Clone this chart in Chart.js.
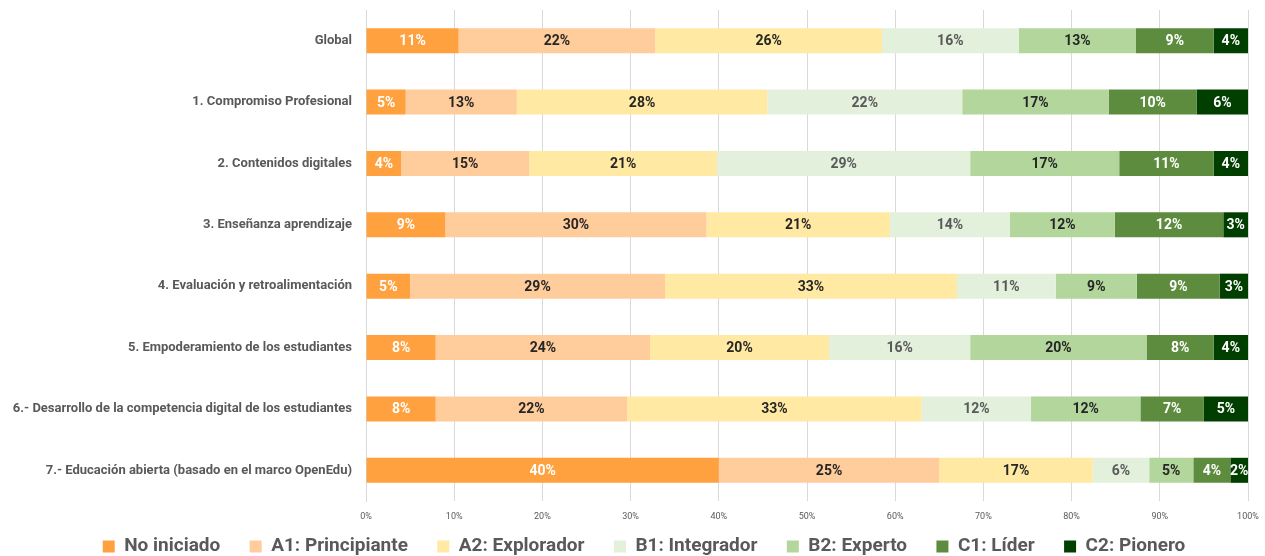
<!DOCTYPE html>
<html>
<head>
<meta charset="utf-8">
<script src="https://cdn.jsdelivr.net/npm/chart.js@4.4.1/dist/chart.umd.min.js"></script>
<style>
  html, body { margin: 0; padding: 0; background: #fff; }
  #wrap { width: 1265px; height: 556px; }
</style>
</head>
<body>
<div id="wrap"><canvas id="bars"></canvas></div>
<script>
// Categorías (de arriba a abajo)
const categories = [
  'Global',
  '1. Compromiso Profesional',
  '2. Contenidos digitales',
  '3. Enseñanza aprendizaje',
  '4. Evaluación y retroalimentación',
  '5. Empoderamiento de los estudiantes',
  '6.- Desarrollo de la competencia digital de los estudiantes',
  '7.- Educación abierta (basado en el marco OpenEdu)'
];

const levels = ['No iniciado', 'A1: Principiante', 'A2: Explorador', 'B1: Integrador', 'B2: Experto', 'C1: Líder', 'C2: Pionero'];

// Porcentajes por nivel
const noIniciado   = [10.5, 4.5, 4.0, 9.0, 5.0, 7.9, 7.9, 40.0];
const principiante = [22.3, 12.6, 14.5, 29.6, 28.9, 24.3, 21.7, 25.0];
const explorador   = [25.7, 28.4, 21.3, 20.8, 33.1, 20.3, 33.4, 17.4];
const integrador   = [15.5, 22.1, 28.7, 13.6, 11.2, 16.0, 12.4, 6.4];
const experto      = [13.3, 16.6, 16.9, 11.9, 9.2, 20.0, 12.4, 5.0];
const lider        = [8.8, 10.0, 10.7, 12.3, 9.4, 7.6, 7.2, 4.2];
const pionero      = [3.9, 5.8, 3.9, 2.8, 3.2, 3.9, 5.0, 2.0];

const xTicks = [0, 10, 20, 30, 40, 50, 60, 70, 80, 90, 100];

const series = [noIniciado, principiante, explorador, integrador, experto, lider, pionero];
const colors = ['#ffa13f', '#ffcc9c', '#ffe9a3', '#e3f0dc', '#b2d69b', '#5e8c3e', '#003f00'];
const labelColors = ['#ffffff', '#262626', '#262626', '#595959', '#262626', '#ffffff', '#ffffff'];

const labelFont = '"Roboto", "Liberation Sans", sans-serif';

// Etiquetas de porcentaje dentro de cada segmento
const segmentLabels = {
  id: 'segmentLabels',
  afterDatasetsDraw(chart) {
    const ctx = chart.ctx;
    ctx.save();
    ctx.font = 'bold 14px ' + labelFont;
    ctx.textAlign = 'center';
    ctx.textBaseline = 'middle';
    chart.data.datasets.forEach((ds, i) => {
      const meta = chart.getDatasetMeta(i);
      meta.data.forEach((bar, j) => {
        const cx = (bar.x + bar.base) / 2;
        ctx.fillStyle = labelColors[i];
        ctx.fillText(Math.round(ds.data[j]) + '%', cx, bar.y + 1);
      });
    });
    ctx.restore();
  }
};

// La leyenda del original está algo desplazada a la derecha
const legendShift = {
  id: 'legendShift',
  afterLayout(chart) {
    chart.legend.left += 20;
    chart.legend.right += 20;
  }
};

new Chart(document.getElementById('bars'), {
  type: 'bar',
  data: {
    labels: categories,
    datasets: levels.map((name, i) => ({
      label: name,
      data: series[i],
      backgroundColor: colors[i],
      borderWidth: 0,
      barPercentage: 0.8,
      categoryPercentage: 0.51
    }))
  },
  options: {
    indexAxis: 'y',
    responsive: true,
    maintainAspectRatio: false,
    animation: false,
    layout: { padding: { top: 10, right: 17, bottom: -10, left: 0 } },
    scales: {
      x: {
        stacked: true,
        min: 0,
        max: 100,
        afterBuildTicks: (scale) => { scale.ticks = xTicks.map(v => ({ value: v })); },
        afterFit: (scale) => {
          scale.height = 26;
          scale.paddingLeft = 0;
          scale.paddingRight = 0;
        },
        ticks: {
          callback: (v) => v + '%',
          color: '#595959',
          font: { size: 9, family: labelFont },
          padding: 10,
          maxRotation: 0
        },
        grid: { color: '#d9d9d9', drawTicks: false },
        border: { display: false }
      },
      y: {
        stacked: true,
        afterFit: (scale) => {
          scale.width = 366;
          scale.paddingTop = 0;
          scale.paddingBottom = 0;
        },
        ticks: {
          color: '#595959',
          font: { size: 13, weight: 'bold', family: labelFont },
          padding: 6
        },
        grid: { display: false },
        border: { color: '#d9d9d9', width: 1 }
      }
    },
    plugins: {
      legend: {
        position: 'bottom',
        labels: {
          boxWidth: 12,
          boxHeight: 12,
          color: '#595959',
          font: { size: 19, weight: 'bold', family: labelFont },
          padding: 10,
          // espacio extra entre elementos de la leyenda
          generateLabels: (chart) => {
            const items = Chart.defaults.plugins.legend.labels.generateLabels(chart);
            items.forEach((it, i) => { if (i < items.length - 1) it.text = it.text + '\u2002\u2002'; });
            return items;
          }
        }
      },
      tooltip: { enabled: false }
    }
  },
  plugins: [segmentLabels, legendShift]
});
</script>
</body>
</html>
